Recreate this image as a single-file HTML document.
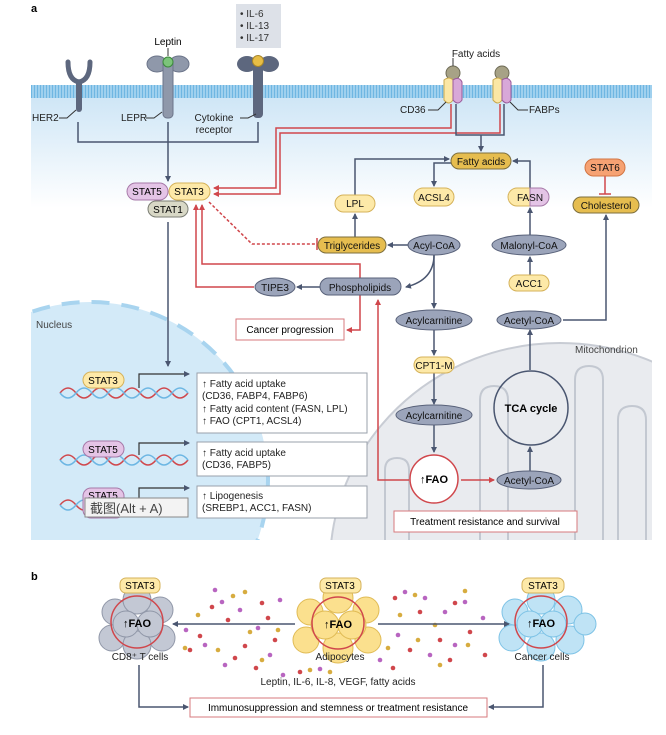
<!DOCTYPE html>
<html><head><meta charset="utf-8"><style>
html,body{margin:0;padding:0;background:#fff;width:666px;height:735px;overflow:hidden}
svg{display:block;font-family:"Liberation Sans","Noto Sans CJK SC",sans-serif}
</style></head><body>
<svg width="666" height="735" viewBox="0 0 666 735" xmlns="http://www.w3.org/2000/svg">
<defs>
<linearGradient id="bg" x1="0" y1="0" x2="0" y2="1">
<stop offset="0" stop-color="#cfe6f6"/><stop offset="1" stop-color="#ffffff"/></linearGradient>
<pattern id="mem" width="3" height="12" patternUnits="userSpaceOnUse">
<rect width="3" height="12" fill="#9fd0ee"/><rect x="1" width="1" height="12" fill="#6fb6e2"/></pattern>
<marker id="ab" markerWidth="6" markerHeight="6" refX="5" refY="3" orient="auto" markerUnits="userSpaceOnUse"><path d="M0,0 L6,3 L0,6 z" fill="#4a5670"/></marker>
<marker id="ar" markerWidth="6" markerHeight="6" refX="5" refY="3" orient="auto" markerUnits="userSpaceOnUse"><path d="M0,0 L6,3 L0,6 z" fill="#d0474c"/></marker>
<clipPath id="pa"><rect x="31" y="98" width="621" height="442"/></clipPath>
</defs>

<text x="31" y="12" font-size="11" font-weight="bold">a</text>
<rect x="31" y="98" width="621" height="110" fill="url(#bg)"/>
<g clip-path="url(#pa)">
<ellipse cx="560" cy="565" rx="230" ry="222" fill="#e9ebef" stroke="#c8ccd4" stroke-width="2"/>
<g fill="none" stroke="#c3c8d1" stroke-width="2">
<path d="M385 540 V470 q0-12 12-12 q12 0 12 12 V540"/>
<path d="M480 540 V400 q0-14 14-14 q14 0 14 14 V540"/>
<path d="M575 540 V380 q0-14 14-14 q14 0 14 14 V540"/>
<path d="M618 540 V420 q0-14 14-14 q14 0 14 14 V540"/>
</g>
<circle cx="90" cy="480" r="178" fill="#d3eaf8"/>
<circle cx="90" cy="480" r="178" fill="none" stroke="#a8d4ef" stroke-width="4" stroke-dasharray="18 12"/>
</g>
<rect x="31" y="85" width="621" height="13" fill="url(#mem)"/>

<rect x="236" y="4" width="45" height="44" fill="#dde1e8"/>
<g font-size="10" fill="#333"><text x="240" y="17">• IL-6</text><text x="240" y="29">• IL-13</text><text x="240" y="41">• IL-17</text></g>

<path d="M68 62 q0 18 11 20 q11 -2 11 -20" fill="none" stroke="#5d677e" stroke-width="5" stroke-linecap="round"/>
<rect x="76" y="80" width="6" height="32" rx="3" fill="#5d677e"/>
<g fill="#8f98aa" stroke="#6b7489" stroke-width="1">
<ellipse cx="157" cy="64" rx="10" ry="8"/><ellipse cx="179" cy="64" rx="10" ry="8"/>
<rect x="163" y="60" width="10" height="58" rx="4"/>
</g>
<circle cx="168" cy="62" r="5" fill="#7cc47a" stroke="#3c8a3c"/>
<line x1="168" y1="56" x2="168" y2="48" stroke="#333"/>
<text x="168" y="45" font-size="10" text-anchor="middle">Leptin</text>
<g fill="#5d677e">
<ellipse cx="247" cy="64" rx="10" ry="8"/><ellipse cx="269" cy="64" rx="10" ry="8"/>
<rect x="253" y="60" width="10" height="58" rx="4"/>
</g>
<circle cx="258" cy="61" r="5.5" fill="#e7bd45" stroke="#a8862a"/>
<g font-size="10" fill="#222">
<text x="32" y="121">HER2</text><path d="M59 118 h8 l9 -8" fill="none" stroke="#333"/>
<text x="121" y="121">LEPR</text><path d="M146 118 h8 l8 -6" fill="none" stroke="#333"/>
<text x="214" y="121" text-anchor="middle">Cytokine</text><text x="214" y="133" text-anchor="middle">receptor</text>
<path d="M240 118 h8 l8 -4" fill="none" stroke="#333"/>
</g>
<path d="M78 122 V142 H258 V122" fill="none" stroke="#4a5670" stroke-width="1.5"/>
<path d="M168 122 V181" fill="none" stroke="#4a5670" stroke-width="1.5" marker-end="url(#ab)"/>

<g>
<circle cx="453" cy="73" r="7" fill="#a7a286" stroke="#6d6a55"/>
<path d="M444 80 q5-4 9 0 v20 q-4 6 -9 0z" fill="#fbe7a5" stroke="#c8a84e"/>
<path d="M453 80 q6-4 9 2 v18 q-4 6 -9 0z" fill="#d8a8d8" stroke="#9a5a9a"/>
<circle cx="502" cy="73" r="7" fill="#a7a286" stroke="#6d6a55"/>
<path d="M493 80 q5-4 9 0 v20 q-4 6 -9 0z" fill="#fbe7a5" stroke="#c8a84e"/>
<path d="M502 80 q6-4 9 2 v18 q-4 6 -9 0z" fill="#d8a8d8" stroke="#9a5a9a"/>
</g>
<line x1="453" y1="66" x2="453" y2="58" stroke="#333"/>
<g font-size="10" fill="#222">
<text x="476" y="57" text-anchor="middle">Fatty acids</text>
<text x="400" y="113">CD36</text><path d="M428 110 h10 l8 -8" fill="none" stroke="#333"/>
<text x="529" y="113">FABPs</text><path d="M528 110 h-10 l-8 -8" fill="none" stroke="#333"/>
</g>
<g fill="none" stroke="#d0474c" stroke-width="1.5">
<path d="M451 104 V128 H276 V188 H214" marker-end="url(#ar)"/>
<path d="M500 104 V133 H280 V194 H214" marker-end="url(#ar)"/>
</g>
<g fill="none" stroke="#4a5670" stroke-width="1.5">
<path d="M456 104 V135 H504 V104"/>
<path d="M481 135 V151" marker-end="url(#ab)"/>
</g>

<rect x="127" y="183" width="41" height="17" rx="8.5" fill="#e4c4e6" stroke="#a679a8"/>
<rect x="169" y="183" width="41" height="17" rx="8.5" fill="#fde9a8" stroke="#d5b25a"/>
<rect x="148" y="201" width="40" height="16" rx="8" fill="#d8d8c6" stroke="#7b7e74"/>
<g font-size="10" text-anchor="middle"><text x="147" y="195">STAT5</text><text x="189" y="195">STAT3</text><text x="168" y="213">STAT1</text></g>
<path d="M168 222 V366" fill="none" stroke="#4a5670" stroke-width="1.5" marker-end="url(#ab)"/>

<g fill="none" stroke="#4a5670" stroke-width="1.5">
<path d="M355 195 V159 H449" marker-end="url(#ab)"/>
<path d="M451 163 H434 V186" marker-end="url(#ab)"/>
<path d="M530 188 V161 H513" marker-end="url(#ab)"/>
<path d="M355 237 V214" marker-end="url(#ab)"/>
<path d="M408 245 H388" marker-end="url(#ab)"/>
<path d="M530 235 V208" marker-end="url(#ab)"/>
<path d="M530 275 V257" marker-end="url(#ab)"/>
<path d="M563 320 H606 V215" marker-end="url(#ab)"/>
<path d="M434 255 q0 25 -28 32" marker-end="url(#ab)"/>
<path d="M434 255 V308" marker-end="url(#ab)"/>
<path d="M434 329 V355" marker-end="url(#ab)"/>
<path d="M434 373 V404" marker-end="url(#ab)"/>
<path d="M434 425 V452" marker-end="url(#ab)"/>
<path d="M530 472 V447" marker-end="url(#ab)"/>
<path d="M530 370 V330" marker-end="url(#ab)"/>
<path d="M320 287 H297" marker-end="url(#ab)"/>
</g>
<g fill="none" stroke="#d0474c" stroke-width="1.5">
<path d="M605 176 V194"/><path d="M599 194 H611"/>
<path d="M209 202 L252 244 H316" stroke-dasharray="3 2"/><path d="M317 238 V250"/>
<path d="M254 287 H196 V205" marker-end="url(#ar)"/>
<path d="M360 278 V264 H202 V205" marker-end="url(#ar)"/>
<path d="M360 295 V330 H347" marker-end="url(#ar)"/>
<path d="M409 480 H378 V300" marker-end="url(#ar)"/>
<path d="M461 480 H494" marker-end="url(#ar)"/>
</g>

<g stroke-width="1">
<rect x="451" y="153" width="60" height="16" rx="8" fill="#e6bd4f" stroke="#7d6f3e"/>
<rect x="335" y="195" width="40" height="17" rx="8.5" fill="#fde9a8" stroke="#d5b25a"/>
<rect x="414" y="188" width="40" height="18" rx="9" fill="#fde9a8" stroke="#d5b25a"/>
<path d="M517 188 H530 V206 H517 a9 9 0 0 1 0 -18z" fill="#fde9a8" stroke="#d5b25a"/>
<path d="M530 188 H540 a9 9 0 0 1 0 18 H530z" fill="#e4c4e6" stroke="#a679a8"/>
<rect x="585" y="159" width="40" height="17" rx="8.5" fill="#f6a273" stroke="#d27543"/>
<rect x="573" y="197" width="66" height="16" rx="8" fill="#e6bd4f" stroke="#7d6f3e"/>
<rect x="318" y="237" width="68" height="16" rx="8" fill="#e6bd4f" stroke="#7d6f3e"/>
<ellipse cx="434" cy="245" rx="26" ry="10" fill="#9ba4ba" stroke="#59627a"/>
<ellipse cx="529" cy="245" rx="37" ry="10" fill="#9ba4ba" stroke="#59627a"/>
<rect x="509" y="275" width="40" height="16" rx="8" fill="#fde9a8" stroke="#d5b25a"/>
<ellipse cx="529" cy="320" rx="32" ry="9" fill="#9ba4ba" stroke="#59627a"/>
<ellipse cx="275" cy="287" rx="20" ry="9" fill="#9ba4ba" stroke="#59627a"/>
<rect x="320" y="278" width="81" height="17" rx="8.5" fill="#9ba4ba" stroke="#59627a"/>
<ellipse cx="434" cy="320" rx="38" ry="10" fill="#9ba4ba" stroke="#59627a"/>
<rect x="414" y="357" width="40" height="16" rx="8" fill="#fde9a8" stroke="#d5b25a"/>
<ellipse cx="434" cy="415" rx="38" ry="10" fill="#9ba4ba" stroke="#59627a"/>
<ellipse cx="529" cy="480" rx="32" ry="9" fill="#9ba4ba" stroke="#59627a"/>
</g>
<g font-size="10" text-anchor="middle" fill="#111">
<text x="481" y="165">Fatty acids</text><text x="355" y="207">LPL</text><text x="434" y="201">ACSL4</text>
<text x="530" y="201">FASN</text><text x="605" y="171">STAT6</text><text x="606" y="209">Cholesterol</text>
<text x="352" y="249">Triglycerides</text><text x="434" y="249">Acyl-CoA</text><text x="529" y="249">Malonyl-CoA</text>
<text x="529" y="287">ACC1</text><text x="529" y="324">Acetyl-CoA</text><text x="275" y="291">TIPE3</text>
<text x="360" y="291">Phospholipids</text><text x="434" y="324">Acylcarnitine</text><text x="434" y="369">CPT1-M</text>
<text x="434" y="419">Acylcarnitine</text><text x="529" y="484">Acetyl-CoA</text>
</g>
<rect x="236" y="319" width="108" height="21" fill="#fff" stroke="#d77a7d"/>
<text x="290" y="333" font-size="10" text-anchor="middle">Cancer progression</text>
<rect x="394" y="511" width="183" height="21" fill="#fff" stroke="#d77a7d"/>
<text x="485" y="525" font-size="10" text-anchor="middle">Treatment resistance and survival</text>
<circle cx="434" cy="479" r="24" fill="#fff" stroke="#d0474c" stroke-width="1.5"/>
<text x="434" y="483" font-size="11" font-weight="bold" text-anchor="middle">↑FAO</text>
<circle cx="531" cy="408" r="37" fill="none" stroke="#4a5670" stroke-width="1.5"/>
<text x="531" y="412" font-size="11" font-weight="bold" text-anchor="middle">TCA cycle</text>
<text x="575" y="353" font-size="10" fill="#444">Mitochondrion</text>
<text x="36" y="328" font-size="10" fill="#444">Nucleus</text>

<g fill="none" stroke-width="1.5">
<path d="M60 393 q8 -10 16 0 t16 0 t16 0 t16 0 t16 0 t16 0 t16 0 t16 0" stroke="#d0474c"/>
<path d="M60 393 q8 10 16 0 t16 0 t16 0 t16 0 t16 0 t16 0 t16 0 t16 0" stroke="#6cb6e3"/>
<path d="M60 460 q8 -10 16 0 t16 0 t16 0 t16 0 t16 0 t16 0 t16 0 t16 0" stroke="#d0474c"/>
<path d="M60 460 q8 10 16 0 t16 0 t16 0 t16 0 t16 0 t16 0 t16 0 t16 0" stroke="#6cb6e3"/>
<path d="M60 505 q8 -10 16 0 t16 0 t16 0 t16 0 t16 0 t16 0 t16 0 t16 0" stroke="#d0474c"/>
<path d="M60 505 q8 10 16 0 t16 0 t16 0 t16 0 t16 0 t16 0 t16 0 t16 0" stroke="#6cb6e3"/>
</g>
<g fill="none" stroke="#333" stroke-width="1.2">
<path d="M139 388 V374 H189" marker-end="url(#ab)"/>
<path d="M139 455 V443 H189" marker-end="url(#ab)"/>
<path d="M139 500 V488 H189" marker-end="url(#ab)"/>
</g>
<rect x="83" y="372" width="41" height="16" rx="8" fill="#fde9a8" stroke="#d5b25a"/>
<rect x="83" y="441" width="41" height="16" rx="8" fill="#e4c4e6" stroke="#a679a8"/>
<rect x="83" y="488" width="41" height="30" rx="8" fill="#e4c4e6" stroke="#a679a8"/>
<g font-size="10" text-anchor="middle"><text x="103" y="384">STAT3</text><text x="103" y="453">STAT5</text><text x="103" y="499">STAT5</text></g>
<rect x="85" y="498" width="103" height="19" fill="#f3f3f3" stroke="#888"/>
<text x="90" y="513" font-size="13" fill="#444">截图(Alt + A)</text>
<g fill="#fff" stroke="#9aa0ab">
<rect x="197" y="373" width="170" height="60"/><rect x="197" y="442" width="170" height="34"/><rect x="197" y="486" width="170" height="32"/>
</g>
<g font-size="10" fill="#222">
<text x="202" y="387">↑ Fatty acid uptake</text><text x="202" y="399">(CD36, FABP4, FABP6)</text>
<text x="202" y="412">↑ Fatty acid content (FASN, LPL)</text><text x="202" y="424">↑ FAO (CPT1, ACSL4)</text>
<text x="202" y="456">↑ Fatty acid uptake</text><text x="202" y="468">(CD36, FABP5)</text>
<text x="202" y="499">↑ Lipogenesis</text><text x="202" y="511">(SREBP1, ACC1, FASN)</text>
</g>

<text x="31" y="580" font-size="11" font-weight="bold">b</text>
<g fill="#c3c8d4" stroke="#9097a8">
<circle cx="115" cy="612" r="13"/><circle cx="160" cy="610" r="13"/><circle cx="112" cy="638" r="13"/><circle cx="162" cy="638" r="13"/>
<circle cx="137" cy="600" r="14"/><circle cx="137" cy="645" r="14"/><circle cx="126" cy="624" r="13"/><circle cx="150" cy="624" r="13"/>
</g>
<g fill="#fbe08e" stroke="#e0bb55">
<circle cx="310" cy="612" r="13"/><circle cx="366" cy="610" r="13"/><circle cx="306" cy="640" r="13"/><circle cx="368" cy="640" r="13"/>
<circle cx="338" cy="598" r="15"/><circle cx="338" cy="648" r="15"/><circle cx="325" cy="625" r="14"/><circle cx="352" cy="625" r="14"/>
</g>
<g fill="#bfe3f5" stroke="#7ec3e6">
<circle cx="515" cy="612" r="13"/><circle cx="568" cy="610" r="14"/><circle cx="512" cy="638" r="13"/><circle cx="570" cy="640" r="14"/>
<circle cx="585" cy="624" r="11"/><circle cx="541" cy="600" r="14"/><circle cx="541" cy="647" r="14"/><circle cx="530" cy="624" r="13"/><circle cx="553" cy="624" r="13"/>
</g>
<g fill="none" stroke="#d0474c" stroke-width="1.5">
<circle cx="137" cy="622" r="26"/><circle cx="338" cy="623" r="26"/><circle cx="541" cy="622" r="26"/>
</g>
<g font-size="11" font-weight="bold" text-anchor="middle"><text x="137" y="627">↑FAO</text><text x="338" y="628">↑FAO</text><text x="541" y="627">↑FAO</text></g>
<g fill="#fde9a8" stroke="#d5b25a"><rect x="120" y="578" width="40" height="15" rx="6"/><rect x="320" y="578" width="41" height="15" rx="6"/><rect x="522" y="578" width="42" height="15" rx="6"/></g>
<g font-size="10" text-anchor="middle"><text x="140" y="589">STAT3</text><text x="340" y="589">STAT3</text><text x="543" y="589">STAT3</text></g>
<g fill="#d0474c"><circle cx="212" cy="607" r="2.3"/><circle cx="228" cy="620" r="2.3"/><circle cx="200" cy="636" r="2.3"/><circle cx="245" cy="646" r="2.3"/><circle cx="262" cy="603" r="2.3"/><circle cx="275" cy="640" r="2.3"/><circle cx="235" cy="658" r="2.3"/><circle cx="190" cy="650" r="2.3"/><circle cx="256" cy="668" r="2.3"/><circle cx="268" cy="618" r="2.3"/><circle cx="395" cy="598" r="2.3"/><circle cx="420" cy="612" r="2.3"/><circle cx="455" cy="603" r="2.3"/><circle cx="440" cy="640" r="2.3"/><circle cx="410" cy="650" r="2.3"/><circle cx="470" cy="632" r="2.3"/><circle cx="485" cy="655" r="2.3"/><circle cx="393" cy="668" r="2.3"/><circle cx="450" cy="660" r="2.3"/><circle cx="300" cy="672" r="2.3"/></g>
<g fill="#b865c0"><circle cx="215" cy="590" r="2.3"/><circle cx="222" cy="602" r="2.3"/><circle cx="240" cy="610" r="2.3"/><circle cx="186" cy="630" r="2.3"/><circle cx="205" cy="645" r="2.3"/><circle cx="258" cy="628" r="2.3"/><circle cx="280" cy="600" r="2.3"/><circle cx="270" cy="655" r="2.3"/><circle cx="225" cy="665" r="2.3"/><circle cx="283" cy="675" r="2.3"/><circle cx="405" cy="592" r="2.3"/><circle cx="425" cy="598" r="2.3"/><circle cx="445" cy="612" r="2.3"/><circle cx="465" cy="602" r="2.3"/><circle cx="398" cy="635" r="2.3"/><circle cx="430" cy="655" r="2.3"/><circle cx="455" cy="645" r="2.3"/><circle cx="483" cy="618" r="2.3"/><circle cx="380" cy="660" r="2.3"/><circle cx="320" cy="669" r="2.3"/></g>
<g fill="#d7ac3f"><circle cx="198" cy="615" r="2.3"/><circle cx="233" cy="596" r="2.3"/><circle cx="250" cy="632" r="2.3"/><circle cx="185" cy="648" r="2.3"/><circle cx="218" cy="650" r="2.3"/><circle cx="278" cy="630" r="2.3"/><circle cx="245" cy="592" r="2.3"/><circle cx="262" cy="660" r="2.3"/><circle cx="310" cy="670" r="2.3"/><circle cx="400" cy="615" r="2.3"/><circle cx="415" cy="595" r="2.3"/><circle cx="435" cy="625" r="2.3"/><circle cx="468" cy="645" r="2.3"/><circle cx="418" cy="640" r="2.3"/><circle cx="465" cy="591" r="2.3"/><circle cx="388" cy="648" r="2.3"/><circle cx="440" cy="665" r="2.3"/><circle cx="330" cy="672" r="2.3"/></g>
<g fill="none" stroke="#4a5670" stroke-width="1.5">
<path d="M295 624 H173" marker-end="url(#ab)"/>
<path d="M378 624 H509" marker-end="url(#ab)"/>
<path d="M139 665 V707 H188" marker-end="url(#ab)"/>
<path d="M543 665 V707 H489" marker-end="url(#ab)"/>
</g>
<g font-size="10" text-anchor="middle" fill="#222">
<text x="140" y="660">CD8⁺ T cells</text><text x="340" y="660">Adipocytes</text><text x="542" y="660">Cancer cells</text>
<text x="338" y="685">Leptin, IL-6, IL-8, VEGF, fatty acids</text>
</g>
<rect x="190" y="698" width="297" height="19" fill="#fff" stroke="#d77a7d"/>
<text x="338" y="711" font-size="10" text-anchor="middle">Immunosuppression and stemness or treatment resistance</text>
</svg>
</body></html>
